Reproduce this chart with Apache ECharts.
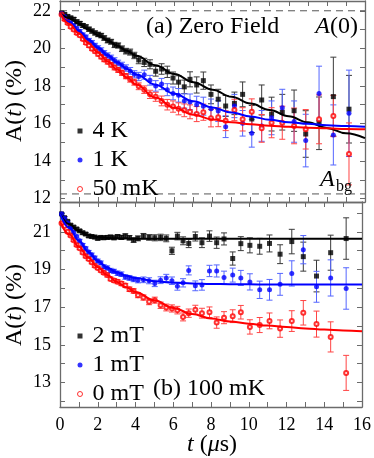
<!DOCTYPE html>
<html>
<head>
<meta charset="utf-8">
<script src="https://cdn.jsdelivr.net/npm/echarts@6/dist/echarts.min.js"></script>
<style>
  html, body { margin: 0; padding: 0; background: #fff; }
  #chart { width: 374px; height: 458px; }
</style>
</head>
<body>
<div id="chart"></div>
<script>
// time bins (μs), shared by both panels
const times = [0.08, 0.24, 0.40, 0.56, 0.72, 0.88, 1.04, 1.20, 1.36, 1.52, 1.68, 1.84, 2.00, 2.16, 2.32, 2.50, 2.68, 2.86, 3.05, 3.25, 3.46, 3.68, 3.90,
  4.13, 4.42, 4.72, 5.02, 5.33, 5.63, 5.93, 6.22, 6.52, 6.82, 7.17, 7.52, 7.92,
  8.30, 8.69, 9.15, 9.58, 10.06, 10.58, 11.10, 11.66, 12.28, 12.89, 13.59, 14.34, 15.16];
const fitTimes = [0, 0.5, 1, 1.5, 2, 2.5, 3, 3.5, 4, 5, 6, 7, 8, 9, 10, 11, 12, 13, 14, 15, 16];

// (a) zero field
const zf4K = [21.88, 21.80, 21.70, 21.62, 21.55, 21.42, 21.33, 21.22, 21.15, 21.02, 20.92, 20.82, 20.74, 20.68, 20.55, 20.42, 20.35, 20.18, 20.15, 19.98, 19.85, 19.80, 19.62,
  19.38, 19.25, 19.15, 18.78, 18.90, 18.75, 18.42, 18.20, 17.95, 18.35, 18.05, 18.28, 17.55,
  17.29, 16.93, 17.07, 17.55, 16.24, 17.25, 16.50, 16.60, 16.68, 15.44, 16.01, 17.43, 16.76];
const zf4KErr = [0.08, 0.08, 0.08, 0.09, 0.09, 0.09, 0.10, 0.10, 0.10, 0.11, 0.11, 0.11, 0.12, 0.12, 0.12, 0.13, 0.13, 0.14, 0.14, 0.15, 0.15, 0.16, 0.17,
  0.20, 0.22, 0.24, 0.26, 0.28, 0.30, 0.32, 0.34, 0.36, 0.40, 0.43, 0.46, 0.50,
  0.53, 0.56, 0.60, 0.66, 0.72, 0.80, 0.90, 0.95, 1.10, 1.24, 1.40, 2.10, 1.80];
const zf1K = [21.85, 21.70, 21.50, 21.35, 21.20, 21.05, 20.90, 20.72, 20.60, 20.42, 20.30, 20.15, 20.02, 19.90, 19.75, 19.62, 19.50, 19.35, 19.22, 19.10, 18.95, 18.80, 18.62,
  18.50, 18.60, 18.30, 18.00, 18.10, 17.80, 17.60, 17.50, 17.20, 17.15, 17.00, 16.92, 16.78,
  16.66, 15.83, 16.93, 16.01, 15.48, 15.87, 16.30, 16.84, 16.10, 15.09, 17.60, 15.39, 16.54];
const zf1KErr = [0.08, 0.08, 0.09, 0.09, 0.09, 0.10, 0.10, 0.10, 0.11, 0.11, 0.12, 0.12, 0.12, 0.13, 0.13, 0.14, 0.14, 0.15, 0.15, 0.16, 0.17, 0.18, 0.19,
  0.22, 0.24, 0.26, 0.28, 0.30, 0.32, 0.34, 0.36, 0.38, 0.42, 0.45, 0.48, 0.52,
  0.55, 0.58, 0.62, 0.68, 0.74, 0.82, 0.90, 0.98, 1.10, 1.40, 1.45, 1.60, 2.30];
const zf50mK = [21.80, 21.55, 21.35, 21.15, 21.00, 20.82, 20.70, 20.50, 20.30, 20.15, 19.98, 19.85, 19.70, 19.55, 19.40, 19.28, 19.12, 18.98, 18.85, 18.70, 18.52, 18.35, 18.20,
  17.98, 17.80, 17.55, 17.42, 17.20, 17.00, 16.90, 16.78, 16.70, 16.62, 16.50, 16.60, 16.28,
  16.33, 16.15, 16.72, 16.22, 16.63, 15.74, 16.04, 16.04, 15.87, 15.69, 16.22, 16.40, 14.38];
const zf50mKErr = [0.07, 0.07, 0.07, 0.08, 0.08, 0.08, 0.09, 0.09, 0.09, 0.10, 0.10, 0.10, 0.11, 0.11, 0.11, 0.12, 0.12, 0.13, 0.13, 0.14, 0.14, 0.15, 0.16,
  0.18, 0.20, 0.22, 0.24, 0.26, 0.28, 0.30, 0.32, 0.34, 0.37, 0.40, 0.43, 0.46,
  0.50, 0.53, 0.57, 0.62, 0.68, 0.74, 0.80, 0.88, 0.95, 1.05, 1.30, 1.10, 1.65];
const zfFit4K = [21.9, 21.6, 21.3, 21.0, 20.7, 20.42, 20.14, 19.87, 19.6, 19.1, 18.63, 18.2, 17.8, 17.42, 17.06, 16.72, 16.38, 16.06, 15.76, 15.48, 15.22];
const zfFit1K = [21.9, 21.4, 20.92, 20.46, 20.03, 19.63, 19.26, 18.92, 18.61, 18.06, 17.58, 17.18, 16.85, 16.58, 16.37, 16.2, 16.07, 15.98, 15.91, 15.86, 15.83];
const zfFit50mK = [21.9, 21.3, 20.78, 20.27, 19.76, 19.3, 18.87, 18.46, 18.07, 17.38, 16.84, 16.46, 16.21, 16.06, 15.96, 15.88, 15.82, 15.77, 15.74, 15.71, 15.69];
const aZeroLevel = 22.0;
const aBgLevel = 12.25;

// (b) 100 mK in longitudinal field
const lf2mT = [21.95, 21.75, 21.55, 21.35, 21.25, 21.15, 21.05, 20.95, 20.88, 20.78, 20.75, 20.72, 20.65, 20.70, 20.68, 20.70, 20.72, 20.68, 20.74, 20.70, 20.78, 20.68, 20.56,
  20.65, 20.77, 20.70, 20.68, 20.70, 20.65, 19.99, 20.77, 20.52, 20.38, 20.75, 20.42, 20.77,
  20.42, 20.62, 19.58, 20.37, 20.28, 20.23, 20.38, 19.81, 20.48, 19.68, 18.65, 19.89, 20.64];
const lf2mTErr = [0.06, 0.06, 0.06, 0.07, 0.07, 0.07, 0.07, 0.08, 0.08, 0.08, 0.08, 0.09, 0.09, 0.09, 0.09, 0.10, 0.10, 0.10, 0.11, 0.11, 0.11, 0.12, 0.12,
  0.13, 0.14, 0.15, 0.16, 0.17, 0.18, 0.19, 0.20, 0.21, 0.22, 0.24, 0.26, 0.28,
  0.30, 0.32, 0.35, 0.37, 0.40, 0.42, 0.45, 0.50, 0.65, 0.77, 0.84, 0.93, 1.10];
const lf1mT = [21.95, 21.72, 21.48, 21.20, 20.98, 20.75, 20.52, 20.30, 20.12, 19.92, 19.78, 19.62, 19.45, 19.35, 19.15, 19.08, 18.95, 18.90, 18.80, 18.75, 18.60, 18.55, 18.48,
  18.43, 18.45, 18.40, 18.26, 18.43, 18.55, 18.40, 18.11, 18.29, 18.95, 18.13, 18.18, 18.92,
  18.92, 18.57, 18.70, 18.55, 18.34, 17.92, 17.92, 18.21, 18.79, 20.05, 18.08, 18.55, 17.99];
const lf1mTErr = [0.06, 0.06, 0.07, 0.07, 0.07, 0.08, 0.08, 0.08, 0.08, 0.09, 0.09, 0.09, 0.10, 0.10, 0.10, 0.11, 0.11, 0.11, 0.12, 0.12, 0.12, 0.13, 0.13,
  0.14, 0.15, 0.16, 0.17, 0.18, 0.19, 0.20, 0.21, 0.22, 0.24, 0.26, 0.28, 0.30,
  0.32, 0.34, 0.37, 0.40, 0.43, 0.46, 0.55, 0.58, 0.67, 0.75, 0.82, 0.96, 1.10];
const lf0mT = [21.45, 21.30, 21.00, 20.80, 20.55, 20.30, 20.12, 19.90, 19.70, 19.55, 19.38, 19.20, 19.08, 18.95, 18.82, 18.70, 18.50, 18.42, 18.35, 18.25, 18.15, 17.95, 17.86,
  17.63, 17.51, 17.28, 17.37, 17.10, 16.98, 16.93, 16.84, 16.48, 16.68, 16.86, 16.68, 16.73,
  16.18, 16.44, 16.52, 16.73, 15.95, 16.05, 16.27, 15.86, 16.26, 16.70, 16.10, 15.42, 13.51];
const lf0mTErr = [0.06, 0.06, 0.06, 0.07, 0.07, 0.07, 0.07, 0.08, 0.08, 0.08, 0.08, 0.09, 0.09, 0.09, 0.09, 0.10, 0.10, 0.10, 0.11, 0.11, 0.11, 0.12, 0.12,
  0.13, 0.14, 0.15, 0.16, 0.17, 0.18, 0.19, 0.20, 0.21, 0.22, 0.24, 0.26, 0.28,
  0.30, 0.32, 0.34, 0.36, 0.38, 0.40, 0.42, 0.46, 0.55, 0.65, 0.69, 0.80, 0.93];
const lfFit2mT = [21.95, 21.4, 21.03, 20.82, 20.72, 20.67, 20.65, 20.64, 20.63, 20.63, 20.63, 20.63, 20.63, 20.63, 20.63, 20.63, 20.63, 20.63, 20.63, 20.63, 20.63];
const lfFit1mT = [21.95, 21.2, 20.52, 19.93, 19.45, 19.1, 18.85, 18.67, 18.54, 18.38, 18.3, 18.25, 18.23, 18.22, 18.21, 18.2, 18.2, 18.2, 18.2, 18.2, 18.2];
const lfFit0mT = [21.55, 20.85, 20.2, 19.62, 19.12, 18.7, 18.35, 18.06, 17.81, 17.36, 16.96, 16.63, 16.4, 16.24, 16.12, 16.02, 15.94, 15.87, 15.81, 15.76, 15.72];

// ticks
const xTicks = [0, 1, 2, 3, 4, 5, 6, 7, 8, 9, 10, 11, 12, 13, 14, 15, 16];
const xLabels = [0, 2, 4, 6, 8, 10, 12, 14, 16];
const yTicks = [12, 13, 14, 15, 16, 17, 18, 19, 20, 21, 22];
const yLabelsTop = [12, 14, 16, 18, 20, 22];
const yLabelsBottom = [13, 15, 17, 19, 21];

const serif = "'Liberation Serif', 'Times New Roman', serif";
const frame = '#6b6b6b';

function xAxis(gridIndex, position, showLabels) {
  return {
    type: 'value', gridIndex, position, min: 0, max: 16,
    axisLine: { show: true, onZero: false, lineStyle: { color: frame, width: 1.3 } },
    axisTick: { show: true, inside: true, length: 5, customValues: xTicks, lineStyle: { color: frame } },
    axisLabel: { show: showLabels, customValues: xLabels, margin: 9, color: '#000', fontFamily: serif, fontSize: 18 },
    splitLine: { show: false }
  };
}
function yAxis(gridIndex, position, min, max, labels, showLabels) {
  return {
    type: 'value', gridIndex, position, min, max,
    axisLine: { show: true, onZero: false, lineStyle: { color: frame, width: 1.3 } },
    axisTick: { show: true, inside: true, length: 5, customValues: yTicks, lineStyle: { color: frame } },
    axisLabel: { show: showLabels, customValues: labels, margin: 9, color: '#000', fontFamily: serif, fontSize: 18 },
    splitLine: { show: false }
  };
}

// error bars with caps
function bars(axis, vals, errs, color) {
  return {
    type: 'custom', xAxisIndex: axis, yAxisIndex: axis, z: 2, silent: true, clip: true,
    data: times.map((t, i) => [t, vals[i] - errs[i], vals[i] + errs[i]]),
    encode: { x: 0, y: [1, 2] },
    renderItem(params, api) {
      const lo = api.coord([api.value(0), api.value(1)]);
      const hi = api.coord([api.value(0), api.value(2)]);
      const w = 3;
      const style = { stroke: color, lineWidth: 1 };
      return {
        type: 'group', children: [
          { type: 'line', shape: { x1: lo[0], y1: lo[1], x2: hi[0], y2: hi[1] }, style },
          { type: 'line', shape: { x1: lo[0] - w, y1: lo[1], x2: lo[0] + w, y2: lo[1] }, style },
          { type: 'line', shape: { x1: hi[0] - w, y1: hi[1], x2: hi[0] + w, y2: hi[1] }, style }
        ]
      };
    }
  };
}
function points(name, axis, vals, symbol, color) {
  const open = symbol === 'emptyCircle';
  return {
    name, type: 'scatter', xAxisIndex: axis, yAxisIndex: axis, z: 3, symbol, symbolSize: open ? 4 : 5,
    itemStyle: { color, borderColor: color, borderWidth: open ? 1 : 0 },
    data: times.map((t, i) => [t, vals[i]])
  };
}
function fit(axis, vals, color) {
  return {
    type: 'line', xAxisIndex: axis, yAxisIndex: axis, z: 4, symbol: 'none', smooth: 0.4, smoothMonotone: 'x',
    lineStyle: { color, width: 2 }, silent: true,
    data: fitTimes.map((t, i) => [t, vals[i]])
  };
}
function level(y) {
  return {
    type: 'line', xAxisIndex: 0, yAxisIndex: 0, z: 1, symbol: 'none', silent: true,
    lineStyle: { color: '#555', width: 1, type: [7, 5] },
    data: [[0, y], [16, y]]
  };
}

const legendText = { fontFamily: serif, fontSize: 24, color: '#000', lineHeight: 24, padding: [0, 0, 0, 5] };
const openIcon = { icon: 'circle', itemStyle: { color: '#fff', borderColor: '#ff0000', borderWidth: 1 } };
const rich = {
  r: { fontFamily: serif, fontSize: 24, color: '#000' },
  i: { fontFamily: serif, fontSize: 24, color: '#000', fontStyle: 'italic' }
};

const chart = echarts.init(document.getElementById('chart'));
chart.setOption({
  animation: false,
  backgroundColor: '#fff',
  grid: [
    { left: 60, top: 1, width: 305, height: 201 },
    { left: 60, top: 202, width: 305, height: 205 }
  ],
  xAxis: [xAxis(0, 'bottom', false), xAxis(1, 'bottom', true), xAxis(0, 'top', false), xAxis(1, 'top', false)],
  yAxis: [yAxis(0, 'left', 11.82, 22.52, yLabelsTop, true), yAxis(1, 'left', 11.7, 22.58, yLabelsBottom, true),
          yAxis(0, 'right', 11.82, 22.52, yLabelsTop, false), yAxis(1, 'right', 11.7, 22.58, yLabelsBottom, false)],
  legend: [
    { data: ['4 K', '1 K', Object.assign({ name: '50 mK' }, openIcon)], orient: 'vertical', left: 72, top: 114,
      itemWidth: 5, itemHeight: 5, itemGap: 5, selectedMode: false, textStyle: legendText },
    { data: ['2 mT', '1 mT', Object.assign({ name: '0 mT' }, openIcon)], orient: 'vertical', left: 72, top: 319,
      itemWidth: 5, itemHeight: 5, itemGap: 5, selectedMode: false, textStyle: legendText }
  ],
  series: [
    level(aZeroLevel), level(aBgLevel),
    bars(0, zf4K, zf4KErr, '#3a3a3a'), bars(0, zf1K, zf1KErr, '#5566ff'), bars(0, zf50mK, zf50mKErr, '#ff4444'),
    points('4 K', 0, zf4K, 'rect', '#000'), points('1 K', 0, zf1K, 'circle', '#0000ff'), points('50 mK', 0, zf50mK, 'emptyCircle', '#ff0000'),
    fit(0, zfFit4K, '#000'), fit(0, zfFit1K, '#0000ff'), fit(0, zfFit50mK, '#ff0000'),
    bars(1, lf2mT, lf2mTErr, '#3a3a3a'), bars(1, lf1mT, lf1mTErr, '#5566ff'), bars(1, lf0mT, lf0mTErr, '#ff4444'),
    points('2 mT', 1, lf2mT, 'rect', '#000'), points('1 mT', 1, lf1mT, 'circle', '#0000ff'), points('0 mT', 1, lf0mT, 'emptyCircle', '#ff0000'),
    fit(1, lfFit2mT, '#000'), fit(1, lfFit1mT, '#0000ff'), fit(1, lfFit0mT, '#ff0000')
  ],
  graphic: [
    { type: 'text', x: 146, y: 27, z: 10, style: { text: '(a) Zero Field', font: '24px ' + serif, fill: '#000', verticalAlign: 'middle' } },
    { type: 'text', x: 358, y: 27, z: 10, style: { text: '{i|A}{r|(0)}', rich, align: 'right', verticalAlign: 'middle' } },
    { type: 'text', x: 320, y: 180, z: 10, style: { text: 'A', font: 'italic 24px ' + serif, fill: '#000', verticalAlign: 'middle' } },
    { type: 'text', x: 336, y: 187, z: 10, style: { text: 'bg', font: '16px ' + serif, fill: '#000', verticalAlign: 'middle' } },
    { type: 'text', x: 153, y: 389, z: 10, style: { text: '(b) 100 mK', font: '24px ' + serif, fill: '#000', verticalAlign: 'middle' } },
    { type: 'text', x: 15, y: 101, rotation: Math.PI / 2, z: 10, style: { text: '{r|A(}{i|t}{r|) (%)}', rich, align: 'center', verticalAlign: 'middle' } },
    { type: 'text', x: 15, y: 305, rotation: Math.PI / 2, z: 10, style: { text: '{r|A(}{i|t}{r|) (%)}', rich, align: 'center', verticalAlign: 'middle' } },
    { type: 'text', x: 212, y: 445, z: 10, style: { text: '{i|t}{r| (}{i|μ}{r|s)}', rich, align: 'center', verticalAlign: 'middle' } }
  ]
});
</script>
</body>
</html>
